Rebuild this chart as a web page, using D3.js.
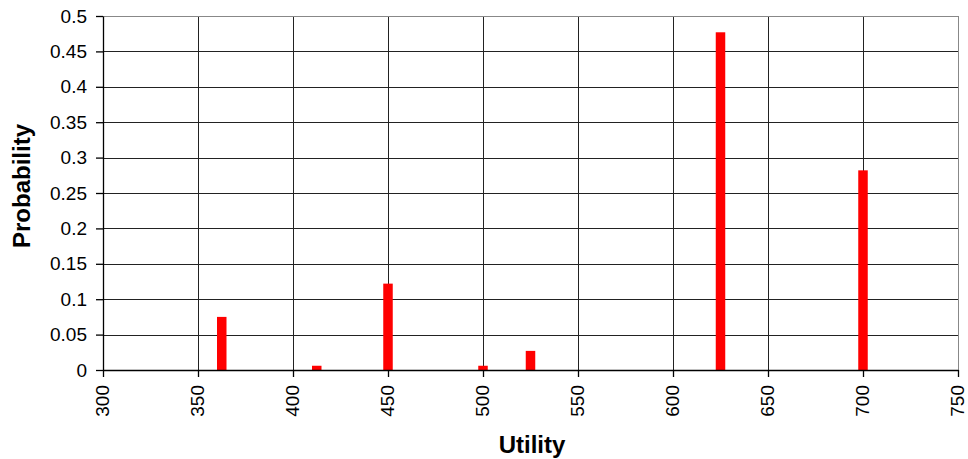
<!DOCTYPE html>
<html>
<head>
<meta charset="utf-8">
<script src="https://cdn.jsdelivr.net/npm/d3@7"></script>
<style>
  body { margin: 0; background: #fff; }
  svg text { font-family: "Liberation Sans", Arial, sans-serif; }
</style>
</head>
<body>
<svg id="chart" width="968" height="459"></svg>
<script>
// values
const utility = [362.5, 412.5, 450, 500, 525, 625, 700];
const probability = [0.075, 0.006, 0.122, 0.006, 0.027, 0.477, 0.282];
const xTicks = [300, 350, 400, 450, 500, 550, 600, 650, 700, 750];
const yTicks = [0, 0.05, 0.1, 0.15, 0.2, 0.25, 0.3, 0.35, 0.4, 0.45, 0.5];

const margin = { top: 16, right: 10, bottom: 89, left: 103 };
const width = 958 - margin.left;
const height = 370 - margin.top;

const svg = d3.select('#chart')
  .append('g')
  .attr('transform', `translate(${margin.left},${margin.top})`);

const x = d3.scaleLinear().domain([300, 750]).range([0, width]);
const y = d3.scaleLinear().domain([0, 0.5]).range([height, 0]);

// grid
svg.append('g').selectAll('line.h')
  .data(yTicks).enter().append('line')
  .attr('x1', 0).attr('x2', width)
  .attr('y1', d => Math.round(y(d)) + 0.5).attr('y2', d => Math.round(y(d)) + 0.5)
  .attr('stroke', '#222').attr('stroke-width', 1);
svg.append('g').selectAll('line.v')
  .data(xTicks).enter().append('line')
  .attr('y1', 0).attr('y2', height)
  .attr('x1', d => Math.round(x(d)) + 0.5).attr('x2', d => Math.round(x(d)) + 0.5)
  .attr('stroke', '#222').attr('stroke-width', 1);

// right + top border in grey
svg.append('line').attr('x1', 0).attr('x2', width).attr('y1', 0.5).attr('y2', 0.5)
  .attr('stroke', '#888');
svg.append('line').attr('x1', width + 0.5).attr('x2', width + 0.5).attr('y1', 0).attr('y2', height)
  .attr('stroke', '#888');

// bars
const barW = 9.5;
svg.selectAll('rect.bar')
  .data(utility).enter().append('rect')
  .attr('class', 'bar')
  .attr('x', (d) => x(d) - barW / 2)
  .attr('y', (d, i) => y(probability[i]))
  .attr('width', barW)
  .attr('height', (d, i) => y(0) - y(probability[i]))
  .attr('fill', '#ff0000');

// axes
const xAxis = d3.axisBottom(x).tickValues(xTicks).tickSize(7).tickSizeOuter(0).tickFormat(d3.format('d'));
const gx = svg.append('g')
  .attr('transform', `translate(0,${height})`)
  .call(xAxis);
gx.selectAll('path, line').attr('stroke', '#000').attr('stroke-width', 1.3);
gx.selectAll('text')
  .attr('transform', 'rotate(-90)')
  .attr('x', -15).attr('y', -1).attr('dy', '0.35em')
  .style('text-anchor', 'end')
  .style('font-size', '19px')
  .attr('fill', '#000');

const yAxis = d3.axisLeft(y).tickValues(yTicks).tickSize(7).tickSizeOuter(0).tickFormat(d => d === 0 ? '0' : String(d));
const gy = svg.append('g').call(yAxis);
gy.selectAll('path, line').attr('stroke', '#000').attr('stroke-width', 1.3);
gy.selectAll('text')
  .attr('x', -16)
  .style('font-size', '19px')
  .attr('fill', '#000');

// axis titles
d3.select('#chart').append('text')
  .attr('x', 532).attr('y', 453)
  .attr('text-anchor', 'middle')
  .style('font-size', '24px').style('font-weight', 'bold')
  .text('Utility');

d3.select('#chart').append('text')
  .attr('transform', 'translate(30,186) rotate(-90)')
  .attr('text-anchor', 'middle')
  .style('font-size', '24px').style('font-weight', 'bold')
  .text('Probability');
</script>
</body>
</html>
